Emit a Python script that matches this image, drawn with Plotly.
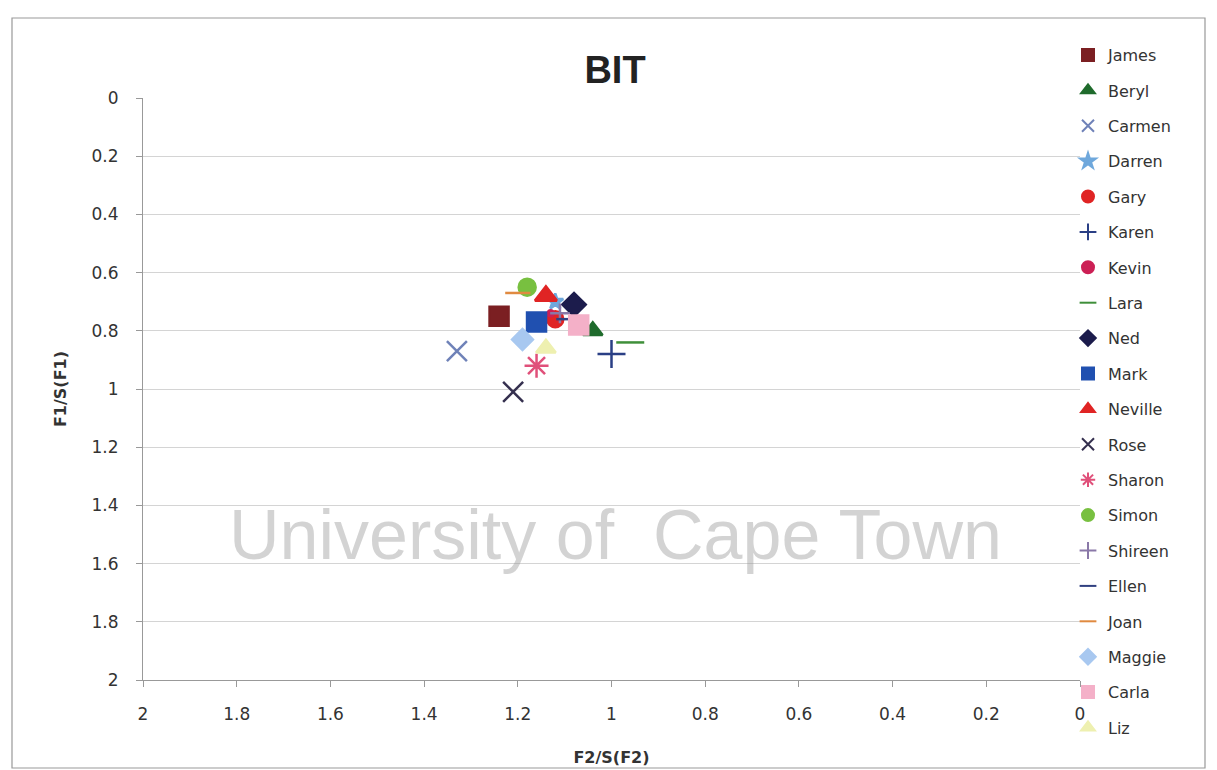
import plotly.graph_objects as go

names = ["James", "Beryl", "Carmen", "Darren", "Gary", "Karen", "Kevin", "Lara", "Ned", "Mark",
         "Neville", "Rose", "Sharon", "Simon", "Shireen", "Ellen", "Joan", "Maggie", "Carla", "Liz"]
f2_vals = [1.24, 1.04, 1.33, 1.12, 1.12, 1.00, 1.13, 0.96, 1.08, 1.16,
           1.14, 1.21, 1.16, 1.18, 1.11, 1.10, 1.20, 1.19, 1.07, 1.14]
f1_vals = [0.75, 0.80, 0.87, 0.70, 0.76, 0.88, 0.74, 0.84, 0.71, 0.77,
           0.68, 1.01, 0.92, 0.65, 0.74, 0.76, 0.67, 0.83, 0.78, 0.86]
colors = ["#7b1f22", "#1f6b2c", "#6f82b8", "#6fa8dc", "#e02424", "#2a3f85", "#cc2055", "#3f8f3a",
          "#1c1c4c", "#2050b0", "#e02424", "#35304f", "#e0507a", "#78c040", "#8a78a8", "#304080",
          "#e08a40", "#a8c8f0", "#f4b0c8", "#eef0b0"]
symbols = ["square", "triangle-up", "x-thin-open", "star", "circle", "cross-thin-open", "circle",
           "line-ew-open", "diamond", "square", "triangle-up", "x-thin-open", "asterisk-open",
           "circle", "cross-thin-open", "line-ew-open", "line-ew-open", "diamond", "square",
           "triangle-up"]
sizes = [19, 17, 20, 12, 16, 20, 6, 20, 18, 19, 19, 20, 20, 17, 14, 12, 18, 16, 19, 17]

# page has an 8px body margin; figure coordinates are page coordinates minus 8
W, H = 1209, 770
L, R, T, B = 135, 137, 90, 98
PW, PH = W - L - R, H - T - B

fig = go.Figure()
for i, n in enumerate(names):
    fig.add_trace(go.Scatter(
        x=[f2_vals[i]], y=[f1_vals[i]], mode="markers", name=n, legendgroup=n,
        marker=dict(symbol=symbols[i], color=colors[i], size=sizes[i],
                    line=dict(color=colors[i], width=2.5)),
    ))

axis_font = dict(family="DejaVu Sans", size=17, color="#333333")
title_font = dict(family="DejaVu Sans", size=16, color="#333333")
fig.update_layout(
    width=W, height=H,
    margin=dict(l=L, r=R, t=T, b=B),
    paper_bgcolor="white", plot_bgcolor="white",
    title=dict(text="<b>BIT</b>", x=607 / W, xref="container", xanchor="center",
               y=1 - 62 / H, yref="container", yanchor="middle",
               font=dict(family="Liberation Sans", size=38, color="#222222")),
    xaxis=dict(range=[2, 0], dtick=0.2, showgrid=False, zeroline=False,
               showline=True, linecolor="#999999", ticks="outside", ticklen=6, tickcolor="#999999",
               tickfont=axis_font, ticklabelstandoff=13,
               title=dict(text="<b>F2/S(F2)</b>", font=title_font, standoff=28)),
    yaxis=dict(range=[2, 0], dtick=0.2, showgrid=True, gridcolor="#d4d4d4", zeroline=False,
               showline=True, linecolor="#999999", ticks="outside", ticklen=6, tickcolor="#999999",
               tickfont=axis_font, ticklabelstandoff=14,
               title=dict(text="<b>F1/S(F1)</b>", font=title_font, standoff=20)),
    legend=dict(x=(1060 - L) / PW, xref="paper", y=1 + (T - 30) / PH, yanchor="top",
                font=dict(family="DejaVu Sans", size=16, color="#333333"),
                itemsizing="constant", tracegroupgap=11.6, itemwidth=30,
                maxheight=745,
                bgcolor="rgba(0,0,0,0)"),
    showlegend=True,
)

fig.add_annotation(text="University of  Cape Town", xref="paper", yref="paper",
                   x=(615 - 143) / PW, y=1 - (535 - 98) / PH,
                   xanchor="center", yanchor="middle",
                   showarrow=False,
                   font=dict(family="Liberation Sans", size=70, color="rgba(150,150,150,0.42)"))

fig.add_shape(type="rect", xref="paper", yref="paper",
              x0=(4 - L) / PW, x1=(1197 - L) / PW, y0=-(760 - (T + PH)) / PH, y1=1 + (T - 10) / PH,
              line=dict(color="#999999", width=1.2), layer="below")

fig.write_html("out.html")
